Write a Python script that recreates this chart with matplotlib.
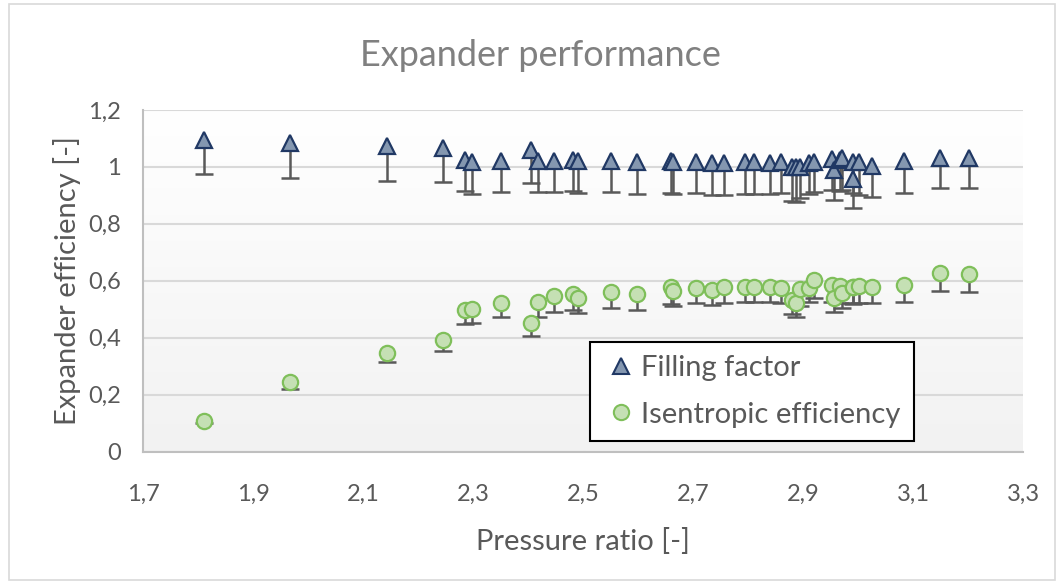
import numpy as np
import matplotlib
matplotlib.use("Agg")
import matplotlib.pyplot as plt
from matplotlib.lines import Line2D
from matplotlib.patches import Rectangle

plt.rcParams['font.family'] = ['Lato', 'DejaVu Sans']

# pressure ratio of every test point
pressure_ratio = [1.810, 1.967, 2.143, 2.246, 2.285, 2.299, 2.351, 2.405, 2.419, 2.447,
                  2.482, 2.491, 2.550, 2.598, 2.660, 2.663, 2.705, 2.734, 2.756, 2.795,
                  2.811, 2.840, 2.860, 2.880, 2.888, 2.895, 2.911, 2.920, 2.952, 2.957,
                  2.968, 2.971, 2.990, 2.991, 3.001, 3.025, 3.084, 3.149, 3.202]

# filling factor and lower end of its error bar
filling_factor = [1.094, 1.084, 1.073, 1.066, 1.024, 1.018, 1.020, 1.059, 1.021, 1.020,
                  1.026, 1.020, 1.020, 1.017, 1.020, 1.016, 1.019, 1.015, 1.015, 1.018,
                  1.018, 1.015, 1.018, 1.000, 0.998, 0.998, 1.015, 1.018, 1.027, 0.988,
                  1.025, 1.032, 1.018, 0.959, 1.018, 1.004, 1.020, 1.032, 1.033]
filling_low = [0.974, 0.960, 0.951, 0.946, 0.916, 0.905, 0.911, 0.944, 0.911, 0.911,
               0.916, 0.909, 0.912, 0.905, 0.910, 0.906, 0.909, 0.903, 0.903, 0.906,
               0.906, 0.906, 0.908, 0.881, 0.878, 0.890, 0.904, 0.911, 0.919, 0.884,
               0.915, 0.919, 0.908, 0.855, 0.902, 0.893, 0.910, 0.927, 0.927]

# isentropic efficiency and lower end of its error bar
isentropic = [0.106, 0.244, 0.347, 0.391, 0.497, 0.500, 0.523, 0.451, 0.524, 0.547,
              0.554, 0.539, 0.560, 0.553, 0.579, 0.565, 0.576, 0.569, 0.579, 0.579,
              0.579, 0.579, 0.576, 0.533, 0.521, 0.571, 0.576, 0.603, 0.585, 0.538,
              0.582, 0.556, 0.579, 0.578, 0.582, 0.579, 0.585, 0.626, 0.623]
isentropic_low = [0.100, 0.221, 0.313, 0.353, 0.448, 0.451, 0.472, 0.406, 0.474, 0.491,
                  0.497, 0.486, 0.505, 0.497, 0.518, 0.512, 0.521, 0.515, 0.523, 0.524,
                  0.524, 0.524, 0.521, 0.482, 0.472, 0.511, 0.527, 0.541, 0.527, 0.491,
                  0.521, 0.503, 0.521, 0.520, 0.521, 0.521, 0.527, 0.564, 0.560]

x_ticks = [1.7, 1.9, 2.1, 2.3, 2.5, 2.7, 2.9, 3.1, 3.3]
x_labels = ['1,7', '1,9', '2,1', '2,3', '2,5', '2,7', '2,9', '3,1', '3,3']
y_ticks = [0, 0.2, 0.4, 0.6, 0.8, 1.0, 1.2]
y_labels = ['0', '0,2', '0,4', '0,6', '0,8', '1', '1,2']

text_col = '#595959'
err_col = '#595959'

fig = plt.figure(figsize=(10.64, 5.84), dpi=100)
ax = fig.add_axes([143 / 1064, 1 - 451.5 / 584, 880 / 1064, 341.5 / 584])

# soft vertical gradient behind the plot area
grad = np.linspace(0, 1, 256).reshape(-1, 1)
ax.imshow(grad, cmap=matplotlib.colors.LinearSegmentedColormap.from_list('bg', ['#f2f2f2', '#ffffff']),
          extent=[0, 1, 0, 1], transform=ax.transAxes, aspect='auto', origin='lower', zorder=0)

# error bars (downwards only)
for ys, lows in [(filling_factor, filling_low), (isentropic, isentropic_low)]:
    ax.vlines(pressure_ratio, lows, ys, color=err_col, lw=1.8, zorder=2)
    ax.plot(pressure_ratio, lows, ls='none', marker='_', ms=13, mew=1.8, color=err_col, zorder=2)

ax.plot(pressure_ratio, filling_factor, ls='none', marker='^', ms=11, mfc='#8497b0',
        mec='#203864', mew=1.6, zorder=3)
ax.plot(pressure_ratio, isentropic, ls='none', marker='o', ms=11, mfc='#c5e0b4',
        mec='#7fbf5a', mew=1.6, zorder=3)

ax.set_xlim(1.7, 3.3)
ax.set_ylim(0, 1.2)
ax.set_xticks(x_ticks)
ax.set_xticklabels(x_labels)
ax.set_yticks(y_ticks)
ax.set_yticklabels(y_labels)
ax.tick_params(length=0, labelsize=17, labelcolor=text_col)
ax.tick_params(axis='x', pad=23)
ax.tick_params(axis='y', pad=16)
ax.grid(axis='y', color='#d9d9d9', lw=1.5, zorder=1)
ax.set_axisbelow(True)
for s in ['top', 'right']:
    ax.spines[s].set_visible(False)
for s in ['left', 'bottom']:
    ax.spines[s].set_color('#bfbfbf')
    ax.spines[s].set_linewidth(1.5)

ax.set_xlabel('Pressure ratio [-]', fontsize=21, color=text_col, labelpad=17)
ax.set_ylabel('Expander efficiency [-]', fontsize=21, color=text_col, labelpad=5)
fig.text(540 / 1064, 1 - 55 / 584, 'Expander performance', fontsize=26, color='#808080',
         ha='center', va='center')

handles = [Line2D([], [], ls='none', marker='^', ms=11, mfc='#8497b0', mec='#203864', mew=1.5),
           Line2D([], [], ls='none', marker='o', ms=11, mfc='#c5e0b4', mec='#7fbf5a', mew=1.5)]
leg = fig.legend(handles, ['Filling factor', 'Isentropic efficiency'], loc='upper left',
                 bbox_to_anchor=(590 / 1064, 1 - 342 / 584), fontsize=21, fancybox=False,
                 framealpha=1, edgecolor='black', handletextpad=0.1, handlelength=1.2,
                 borderpad=0.45, labelspacing=0.7, borderaxespad=0)
leg.get_frame().set_linewidth(1.5)
for t in leg.get_texts():
    t.set_color(text_col)

# chart border
fig.patches.append(Rectangle((9 / 1064, 4 / 584), 1046 / 1064, 576 / 584, transform=fig.transFigure,
                             fill=False, edgecolor='#d9d9d9', lw=1.2))

fig.savefig('out.png', dpi=100)
